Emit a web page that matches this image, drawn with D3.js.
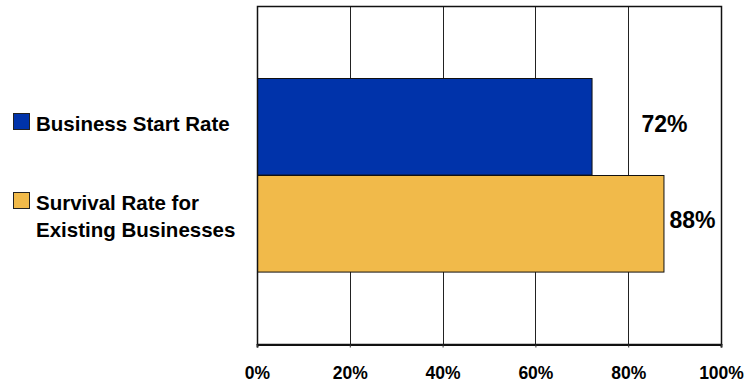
<!DOCTYPE html>
<html>
<head>
<meta charset="utf-8">
<script src="https://cdn.jsdelivr.net/npm/d3@7"></script>
<style>
  body { margin: 0; background: #fff; }
  text { font-family: "Liberation Sans", Arial, sans-serif; font-weight: bold; fill: #000; }
</style>
</head>
<body>
<div id="chart"></div>
<script>
// data
const categories = ["Business Start Rate", "Survival Rate for Existing Businesses"];
const legendLines = [["Business Start Rate"], ["Survival Rate for", "Existing Businesses"]];
const values = [72.1, 87.6];
const colors = ["#0033aa", "#f1ba4a"];
const tickValues = [0, 20, 40, 60, 80, 100];

const width = 746, height = 384;
const margin = {top: 6, right: 25, bottom: 40, left: 257};
const w = width - margin.left - margin.right,
      h = height - margin.top - margin.bottom;

let svg = d3.select("#chart").append("svg")
            .attr("width", width)
            .attr("height", height);

let g = svg.append("g")
           .attr("transform", `translate(${margin.left},${margin.top})`);

//scales
let x = d3.scaleLinear().domain([0, 100]).range([0, w]);
let y = d3.scaleBand().domain(categories).range([0, h])
          .paddingInner(0).paddingOuter(0.75);

//gridlines
g.selectAll(".grid").data(tickValues.slice(1))
 .enter().append("line")
 .attr("x1", d => Math.round(x(d)) + 0.5)
 .attr("x2", d => Math.round(x(d)) + 0.5)
 .attr("y1", 0).attr("y2", h)
 .style("stroke", "#222").style("stroke-width", 1);

//bars
g.selectAll(".bar").data(values)
 .enter().append("rect")
 .attr("x", 0.5)
 .attr("y", (d, i) => Math.round(y(categories[i])) + 0.5)
 .attr("width", d => x(d))
 .attr("height", y.bandwidth())
 .style("fill", (d, i) => colors[i])
 .style("stroke", "#111")
 .style("stroke-width", 1);

//plot border
g.append("rect")
 .attr("x", 0.5).attr("y", 0.5)
 .attr("width", Math.round(w)).attr("height", Math.round(h))
 .style("fill", "none").style("stroke", "#111").style("stroke-width", 1.5);

//x axis
let axis = g.append("g")
            .attr("transform", `translate(0,${Math.round(h) + 0.5})`)
            .call(d3.axisBottom(x).tickValues(tickValues)
                    .tickFormat(d => d + "%").tickSize(3).tickPadding(19));
axis.select(".domain").style("stroke", "#111").style("stroke-width", 2);
axis.selectAll(".tick line").style("stroke", "#333");
axis.selectAll("text")
    .style("font-family", "'Liberation Sans', Arial, sans-serif")
    .style("font-weight", "bold")
    .style("font-size", "17.5px")
    .style("fill", "#000");

//value labels
const labelShift = [50, 6];
g.selectAll(".val").data(values)
 .enter().append("text")
 .attr("x", (d, i) => x(d) + labelShift[i])
 .attr("y", (d, i) => y(categories[i]) + y.bandwidth() / 2 + 5)
 .style("font-size", "23px")
 .text(d => Math.round(d) + "%");

//legend
let legend = svg.append("g");
legendLines.forEach(function(lines, i) {
  let cy = margin.top + y(categories[i]) + y.bandwidth() / 2 - (lines.length > 1 ? 20 : 3);
  legend.append("rect")
        .attr("x", 13.5).attr("y", Math.round(cy - 11) + 0.5)
        .attr("width", 16).attr("height", 16)
        .style("fill", colors[i]).style("stroke", "#222");
  lines.forEach(function(t, j) {
    legend.append("text")
          .attr("x", 36)
          .attr("y", cy + 7 + j * 27)
          .style("font-size", "20.5px")
          .text(t);
  });
});
</script>
</body>
</html>
